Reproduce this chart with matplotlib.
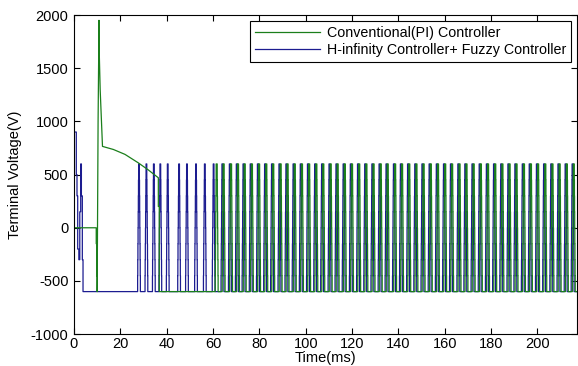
import numpy as np
import matplotlib.pyplot as plt

# inverter staircase levels (V)
levels = [-600, -450, -300, -150, 0, 150, 300, 450, 600]

# start-up part of each trace (time ms, volts)
green_t = [0, 9.6, 9.6, 9.8, 9.8, 10.0, 10.0, 10.4, 10.8, 10.8, 10.9, 11.3, 11.3, 12.3,
           17, 22, 27.7, 32, 36.4, 36.4, 36.8, 36.8]
green_v = [0, 0, -150, -150, -450, -450, -600, 1000, 1950, 1950, 1650, 1300, 1300, 765,
           736, 690, 611, 545, 470, 200, 200, -600]
blue_t = [0, 1.0, 1.0, 1.3, 1.3, 1.6, 1.6, 2.1, 2.1, 2.5, 2.5, 2.9, 2.9, 3.2, 3.2, 3.6,
          3.6, 3.9, 3.9]
blue_v = [900, 900, 500, 500, 300, 300, -200, -200, -300, -300, 150, 150, 600, 600,
          300, 300, -300, -300, -600]

# pulse start times (ms)
blue_slow = [27.4, 30.6, 33.8, 36.6, 39.8, 44.7, 48.1, 52.0, 55.8, 59.6]
blue_fast = [63.4, 66.6, 69.6, 72.5, 75.6, 78.7, 81.8, 84.8, 88.0, 91.0, 94.1, 97.2,
             100.3, 103.4, 106.4, 109.6, 112.6, 115.7, 118.8, 121.9, 125.0, 128.1,
             131.2, 134.2, 137.4, 140.4, 143.5, 146.6, 149.7, 152.8, 155.9, 159.0,
             162.0, 165.2, 168.2, 171.3, 174.4, 177.5, 180.6, 183.7, 186.8, 189.8,
             193.0, 196.0, 199.1, 202.2, 205.3, 208.4, 211.5, 214.5]
green_fast = [60.9, 63.9, 67.1, 70.1, 73.0, 76.1, 79.2, 82.3, 85.3, 88.5, 91.5, 94.6,
              97.7, 100.8, 103.9, 106.9, 110.1, 113.1, 116.2, 119.3, 122.4, 125.5,
              128.6, 131.7, 134.7, 137.9, 140.9, 144.0, 147.1, 150.2, 153.3, 156.4,
              159.5, 162.5, 165.7, 168.7, 171.8, 174.9, 178.0, 181.1, 184.2, 187.3,
              190.3, 193.5, 196.5, 199.6, 202.7, 205.8, 208.9, 212.0, 215.0]
t_end = 217


def add_pulse(ts, vs, start, rise, hold):
    # staircase up, hold at top, staircase down
    n = len(levels) - 1
    for k in range(1, n + 1):
        t = start + rise * k / n
        ts += [t, t]
        vs += [levels[k - 1], levels[k]]
    top_end = start + rise + hold
    for k in range(1, n + 1):
        t = top_end + rise * k / n
        ts += [t, t]
        vs += [levels[n - k + 1], levels[n - k]]


bt, bv = list(blue_t), list(blue_v)
for s in blue_slow:
    add_pulse(bt, bv, s, 0.5, 0.25)
for s in blue_fast:
    add_pulse(bt, bv, s, 0.45, 0.4)
bt.append(t_end); bv.append(-600)

gt, gv = list(green_t), list(green_v)
for s in green_fast:
    add_pulse(gt, gv, s, 0.45, 0.4)
gt.append(t_end); gv.append(-600)

plt.rcParams['font.family'] = ['Liberation Sans', 'DejaVu Sans']
plt.rcParams['axes.unicode_minus'] = False
fig = plt.figure(figsize=(5.78, 3.66), dpi=100)
ax = fig.add_axes([0.128, 0.087, 0.87, 0.872])

l2, = ax.plot(bt, bv, color='#1c1c90', lw=0.9)
l1, = ax.plot(gt, gv, color='#1b7f1b', lw=0.9)

ax.set_xlim(0, t_end)
ax.set_ylim(-1000, 2000)
ax.set_xticks(np.arange(0, 201, 20))
ax.set_yticks(np.arange(-1000, 2001, 500))
ax.tick_params(direction='in', top=True, right=True, labelsize=10.5, length=4)
ax.tick_params(axis='y', pad=4)
ax.tick_params(axis='x', pad=2)
ax.set_xlabel('Time(ms)', fontsize=10.5, labelpad=0)
ax.set_ylabel('Terminal Voltage(V)', fontsize=10.5, labelpad=6)

leg = ax.legend([l1, l2], ['Conventional(PI) Controller', 'H-infinity Controller+ Fuzzy Controller'],
                loc='upper right', fontsize=10.3, fancybox=False, edgecolor='black',
                framealpha=1, handlelength=4.5, borderaxespad=0.4, borderpad=0.35,
                labelspacing=0.2, handletextpad=0.5)
leg.get_frame().set_linewidth(0.8)

fig.savefig('out.png', dpi=100)
